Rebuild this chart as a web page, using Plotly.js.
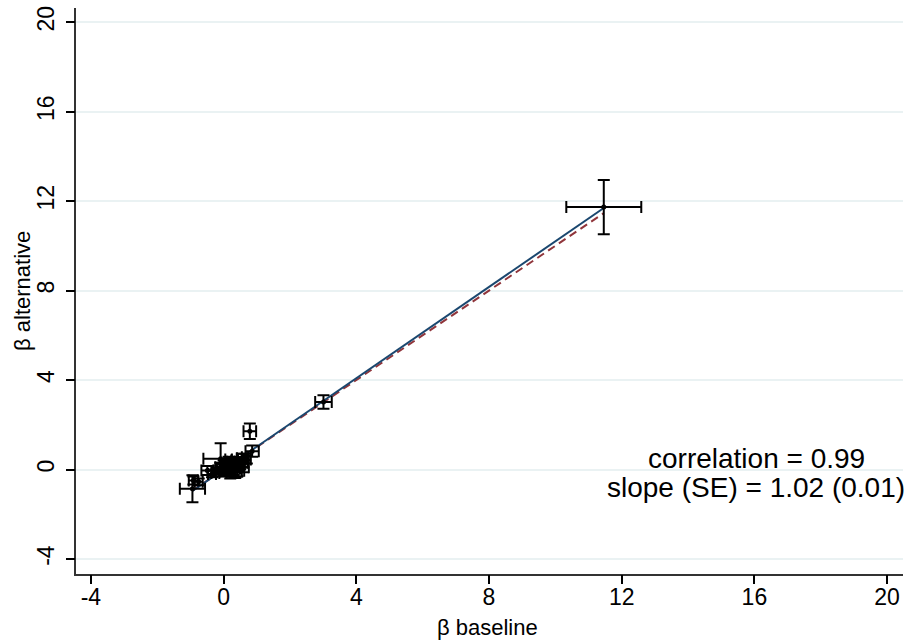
<!DOCTYPE html>
<html>
<head>
<meta charset="utf-8">
<script src="https://cdn.plot.ly/plotly-3.0.1.min.js"></script>
<style>html,body{margin:0;padding:0;background:#fff;}#chart{width:907px;height:642px;}</style>
</head>
<body>
<div id="chart"></div>
<script>
// Estimated coefficients (baseline vs alternative)
const betaBaseline    = [-0.94, -0.91, -0.75, -0.49, -0.35, -0.09, -0.20, -0.10, 0.00, 0.05, 0.10, 0.12, 0.18, 0.20, 0.25, 0.30, 0.33, 0.38, 0.42, 0.45, 0.50, 0.55, 0.60, 0.65, 0.70, 0.86, 0.79, 0.15, 0.00, -0.25, -0.05, 0.08, 0.22, 0.28, 0.35, 0.40, 0.48, 0.52, 0.58, 0.10, 0.30, 3.01, 11.46];
const betaAlternative = [-0.86, -0.49, -0.55, -0.04, -0.20, 0.48, -0.05, 0.10, -0.10, 0.15, 0.00, 0.30, 0.10, -0.15, 0.25, 0.05, 0.40, 0.20, -0.05, 0.35, 0.15, 0.50, 0.30, 0.55, 0.45, 0.82, 1.71, 0.45, 0.25, -0.15, 0.05, -0.05, 0.35, 0.15, -0.10, 0.05, 0.25, 0.40, 0.10, 0.20, 0.30, 3.02, 11.73];
const seBaseline      = [0.38, 0.14, 0.12, 0.18, 0.12, 0.52, 0.10, 0.15, 0.12, 0.10, 0.20, 0.10, 0.15, 0.12, 0.10, 0.18, 0.10, 0.15, 0.20, 0.12, 0.10, 0.15, 0.12, 0.10, 0.12, 0.20, 0.19, 0.10, 0.12, 0.12, 0.15, 0.18, 0.12, 0.15, 0.20, 0.10, 0.15, 0.12, 0.18, 0.15, 0.12, 0.25, 1.13];
const seAlternative   = [0.60, 0.18, 0.15, 0.20, 0.15, 0.70, 0.12, 0.20, 0.20, 0.15, 0.30, 0.12, 0.20, 0.25, 0.12, 0.30, 0.15, 0.20, 0.25, 0.18, 0.15, 0.20, 0.20, 0.15, 0.18, 0.25, 0.35, 0.12, 0.15, 0.15, 0.20, 0.25, 0.15, 0.20, 0.28, 0.15, 0.20, 0.15, 0.22, 0.18, 0.15, 0.30, 1.21];
const fitSlope = 1.02;
const fitIntercept = 0.0;
const tickVals = [-4, 0, 4, 8, 12, 16, 20];
const tickText = ["-4", "0", "4", "8", "12", "16", "20"];
const xTitle = 'β baseline';
const yTitle = 'β alternative';
const statLines = ["correlation = 0.99", "slope (SE) = 1.02 (0.01)"];

const xMin = Math.min(...betaBaseline), xMax = Math.max(...betaBaseline);
const lineX = [xMin, xMax];

const traces = [
  { x: lineX, y: lineX, mode: 'lines', line: {color: '#90353b', width: 2, dash: '8px,5px'}, hoverinfo: 'skip' },
  { x: lineX, y: lineX.map(v => fitIntercept + fitSlope * v), mode: 'lines', line: {color: '#1a476f', width: 2}, hoverinfo: 'skip' },
  { x: betaBaseline, y: betaAlternative, mode: 'markers',
    marker: {color: '#000', size: 5},
    error_x: {type: 'data', array: seBaseline, visible: true, color: '#000', thickness: 2, width: 6},
    error_y: {type: 'data', array: seAlternative, visible: true, color: '#000', thickness: 2, width: 6} },
  // invisible trace to activate the tick-mark overlay axes
  { x: lineX, y: lineX, xaxis: 'x2', yaxis: 'y2', mode: 'markers', marker: {opacity: 0}, hoverinfo: 'skip' }
];

const fontFam = '"Liberation Sans", Arial, Helvetica, sans-serif';
const xr = [-4.45, 20.48], yr = [-4.67, 20.63];
const layout = {
  width: 907, height: 642,
  margin: {l: 76, r: 4, t: 8, b: 68},
  paper_bgcolor: '#fff', plot_bgcolor: '#fff',
  showlegend: false,
  font: {family: fontFam, color: '#000'},
  xaxis: {
    range: xr, tickvals: tickVals, ticktext: tickText,
    showgrid: false, zeroline: false,
    showline: true, linecolor: '#333', linewidth: 2,
    ticks: '', ticklabelstandoff: 1,
    tickfont: {size: 23, family: fontFam},
    automargin: false
  },
  yaxis: {
    range: yr, tickvals: tickVals, ticktext: tickText,
    showgrid: true, gridcolor: '#eaf2f3', gridwidth: 2, zeroline: false,
    showline: true, linecolor: '#333', linewidth: 2,
    ticks: '', ticklabelstandoff: 11,
    tickangle: -90,
    tickfont: {size: 23, family: fontFam},
    automargin: false
  },
  xaxis2: {
    range: xr, tickvals: tickVals, overlaying: 'x', anchor: 'y', side: 'bottom',
    showgrid: false, zeroline: false, showline: false, showticklabels: false,
    ticks: 'outside', ticklen: 9, tickwidth: 2, tickcolor: '#000'
  },
  yaxis2: {
    range: yr, tickvals: tickVals, overlaying: 'y', anchor: 'x', side: 'left',
    showgrid: false, zeroline: false, showline: false, showticklabels: false,
    ticks: 'outside', ticklen: 9, tickwidth: 2, tickcolor: '#000'
  },
  annotations: [
    {x: 0.497, y: -0.0954, xref: 'paper', yref: 'paper', text: xTitle, showarrow: false, xanchor: 'center', yanchor: 'middle', font: {size: 22, family: fontFam, color: '#000'}},
    {x: -0.0653, y: 0.5, xref: 'paper', yref: 'paper', text: yTitle, textangle: -90, showarrow: false, xanchor: 'center', yanchor: 'middle', font: {size: 22, family: fontFam, color: '#000'}},
    {x: 16.05, y: 0.49, xref: 'x', yref: 'y', text: statLines[0], showarrow: false, xanchor: 'center', yanchor: 'middle', font: {size: 28, family: fontFam, color: '#000'}},
    {x: 16.05, y: -0.8, xref: 'x', yref: 'y', text: statLines[1], showarrow: false, xanchor: 'center', yanchor: 'middle', font: {size: 28, family: fontFam, color: '#000'}}
  ]
};
Plotly.newPlot('chart', traces, layout, {staticPlot: true, displayModeBar: false});
</script>
</body>
</html>
